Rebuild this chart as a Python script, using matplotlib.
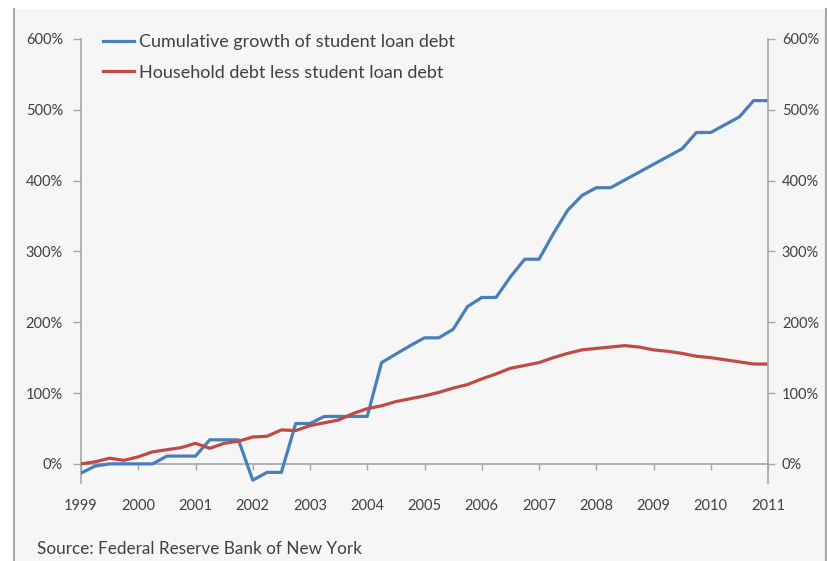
import matplotlib
matplotlib.use("Agg")
import matplotlib.pyplot as plt
from matplotlib.ticker import FuncFormatter

plt.rcParams['font.family'] = ['Lato', 'DejaVu Sans']

quarters = [1999 + 0.25 * i for i in range(49)]
student_loan = [-13, -3, 0, 0, 0, 0, 11, 11, 11, 34, 34, 34,
                -23, -12, -12, 57, 57, 67, 67, 67, 67, 143, 155, 167,
                178, 178, 190, 222, 235, 235, 264, 289, 289, 325, 358, 379,
                390, 390, 401, 412, 423, 434, 445, 468, 468, 479, 490, 513, 513]
household = [0, 3, 8, 5, 10, 17, 20, 23, 29, 22, 29, 32,
             38, 39, 48, 47, 54, 58, 62, 71, 78, 82, 88, 92,
             96, 101, 107, 112, 120, 127, 135, 139, 143, 150, 156, 161,
             163, 165, 167, 165, 161, 159, 156, 152, 150, 147, 144, 141, 141]
year_ticks = list(range(1999, 2012))
pct_ticks = [0, 100, 200, 300, 400, 500, 600]
labels = ["Cumulative growth of student loan debt", "Household debt less student loan debt"]
source = "Source: Federal Reserve Bank of New York"

W, H = 828, 561
fig = plt.figure(figsize=(W / 100, H / 100), dpi=100, facecolor="white")

# chart area background (separate axes underneath)
bgax = fig.add_axes([14 / W, 0, (826 - 14) / W, 1 - 9 / H], zorder=-5)
bgax.set_facecolor("#f6f6f6")
bgax.set_xticks([])
bgax.set_yticks([])
for s in ("top", "bottom"):
    bgax.spines[s].set_visible(False)
for s in ("left", "right"):
    bgax.spines[s].set_color("#a8a8a8")
    bgax.spines[s].set_linewidth(1.5)

ax = fig.add_axes([81 / W, 1 - 483 / H, (768 - 81) / W, (483 - 39) / H], zorder=1)
ax.set_facecolor("none")
blue = "#4a7ebb"
red = "#be4b48"
ax.plot(quarters, student_loan, color=blue, lw=2.3, label=labels[0], solid_joinstyle="round", zorder=3)
ax.plot(quarters, household, color=red, lw=2.3, label=labels[1], solid_joinstyle="round", zorder=3)

ax.set_xlim(1999, 2011)
ax.set_ylim(-27, 600)
spine_col = "#a6a6a6"
text_col = "#404040"
for s in ("top", "right"):
    ax.spines[s].set_visible(False)
ax.spines["left"].set_color(spine_col)
ax.spines["bottom"].set_color(spine_col)
ax.spines["left"].set_linewidth(1.2)
ax.spines["bottom"].set_linewidth(1.2)
ax.spines["bottom"].set_position(("data", 0))

ax.set_xticks(year_ticks)
ax.set_xticklabels([str(y) for y in year_ticks])
ax.set_yticks(pct_ticks)
fmt = FuncFormatter(lambda v, p: f"{int(v)}%")
ax.yaxis.set_major_formatter(fmt)
ax.tick_params(axis="x", direction="out", length=4, width=1, color=spine_col,
               labelsize=10.5, labelcolor=text_col, pad=21)
ax.tick_params(axis="y", direction="out", length=6, width=1, color=spine_col,
               labelsize=10.5, labelcolor=text_col, pad=7)

ax2 = ax.twinx()
ax2.set_ylim(-27, 600)
ax2.set_yticks(pct_ticks)
ax2.yaxis.set_major_formatter(fmt)
for s in ("top", "left", "bottom"):
    ax2.spines[s].set_visible(False)
ax2.spines["right"].set_color(spine_col)
ax2.spines["right"].set_linewidth(1.2)
ax2.tick_params(axis="y", direction="out", length=5, width=1, color=spine_col,
                labelsize=10.5, labelcolor=text_col, pad=5)

leg = ax.legend(loc="upper left", bbox_to_anchor=(103 / W, 1 - 34 / H),
                bbox_transform=fig.transFigure, frameon=False, borderpad=0, borderaxespad=0,
                fontsize=13, handlelength=1.7, handletextpad=0.3, labelspacing=0.82,
                labelcolor=text_col)

fig.text(37 / W, 1 - 549 / H, source, fontsize=12.3, color=text_col, va="center", ha="left")

fig.savefig("out.png", dpi=100, facecolor="white")
